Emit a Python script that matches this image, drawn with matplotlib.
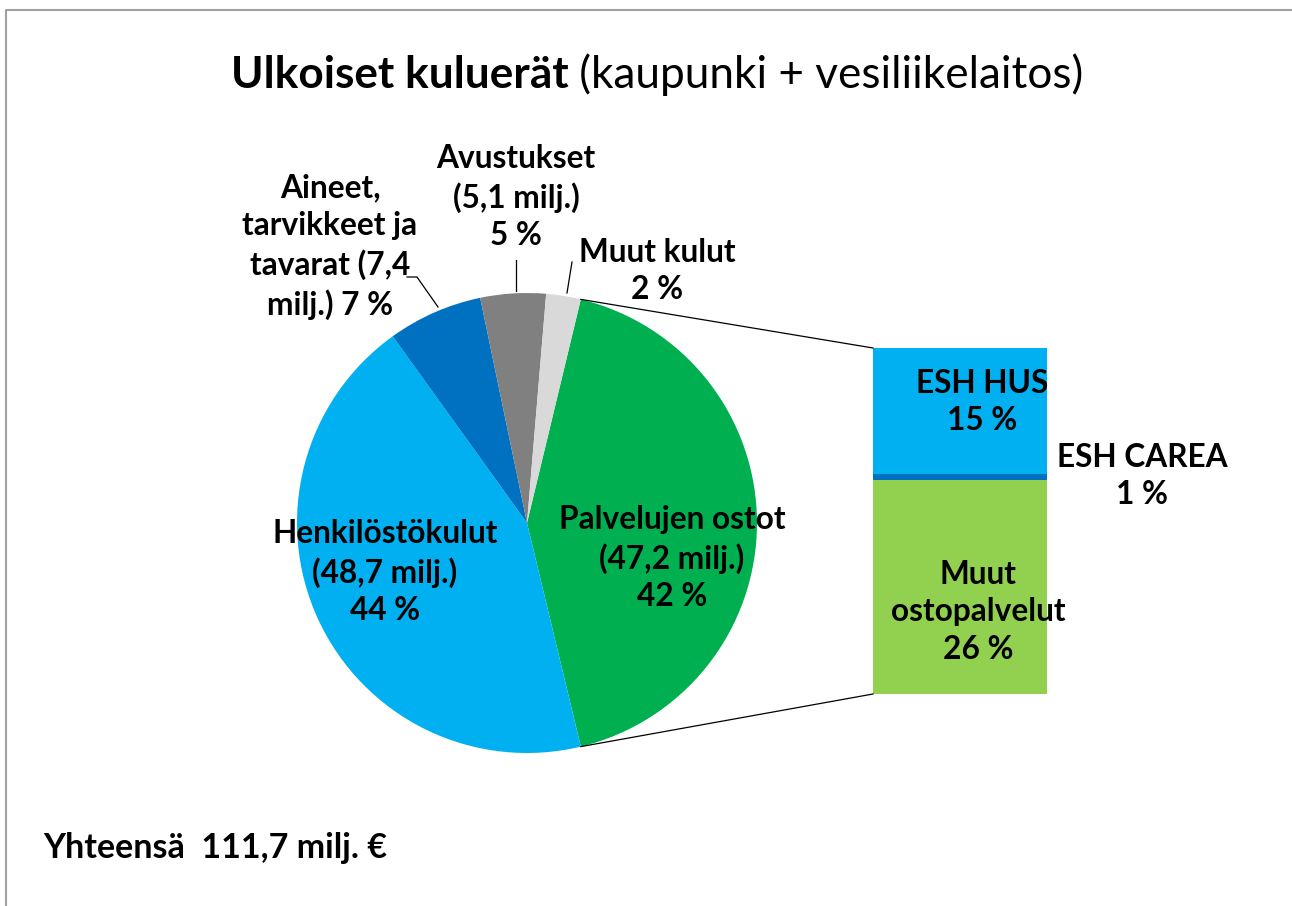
import matplotlib
matplotlib.use("Agg")
import matplotlib.pyplot as plt
import numpy as np

# ---- data ----
pie_labels = ["Palvelujen ostot\n(47,2 milj.)\n42 %",
              "Henkilöstökulut\n(48,7 milj.)\n44 %",
              "Aineet,\ntarvikkeet ja\ntavarat (7,4\nmilj.) 7 %",
              "Avustukset\n(5,1 milj.)\n5 %",
              "Muut kulut\n2 %"]
pie_values = [47.2, 48.7, 7.4, 5.1, 2.7]
pie_colors = ["#00B050", "#00B0F0", "#0070C0", "#808080", "#D9D9D9"]

bar_labels = ["Muut\nostopalvelut\n26 %", "ESH CAREA\n1 %", "ESH HUS\n15 %"]
bar_values = [29.2, 0.8, 17.2]
bar_colors = ["#92D050", "#0070C0", "#00B0F0"]

title_bold = "Ulkoiset kuluerät"
title_normal = " (kaupunki + vesiliikelaitos)"
total_text = "Yhteensä  111,7 milj. €"

W, H = 1292, 906
FONT = "Lato"
fig = plt.figure(figsize=(W / 100, H / 100), dpi=100)
ax = fig.add_axes([0, 0, 1, 1])

def py(y):  # convert from top-origin pixel to data y
    return H - y

cx, cy, R = 527, py(523), 230
green_deg = pie_values[0] / sum(pie_values) * 360
wedges, _ = ax.pie(pie_values, colors=pie_colors, startangle=green_deg / 2,
                   counterclock=False, center=(cx, cy), radius=R, frame=True,
                   wedgeprops=dict(linewidth=0))

# bar of pie
bar_x, bar_w = 960, 174
bar_bottom = py(694)
scale = (694 - 348) / sum(bar_values)
bottom = bar_bottom
for v, c in zip(bar_values, bar_colors):
    ax.bar(bar_x, v * scale, width=bar_w, bottom=bottom, color=c, linewidth=0)
    bottom += v * scale
bar_top = bottom

# connector lines
a = np.deg2rad(green_deg / 2)
ax.plot([cx + R * np.cos(a), bar_x - bar_w / 2], [cy + R * np.sin(a), bar_top],
        color="black", lw=0.9)
ax.plot([cx + R * np.cos(-a), bar_x - bar_w / 2], [cy + R * np.sin(-a), bar_bottom],
        color="black", lw=0.9)

LS = 1.36
fs = 22.8
# pie labels (positions in top-origin pixels)
pie_pos = [(672, 558), (385, 572), (330, 247), (516, 197), (657, 271)]
for lab, (x, y) in zip(pie_labels, pie_pos):
    ax.text(x, py(y), lab, ha="center", va="center", fontsize=fs,
            fontweight="bold", family=FONT, linespacing=LS, color="black")

bar_pos = [(978, 612), (1142, 476), (982, 402)]
for lab, (x, y) in zip(bar_labels, bar_pos):
    ax.text(x, py(y), lab, ha="center", va="center", fontsize=fs,
            fontweight="bold", family=FONT, linespacing=LS, color="black")

# leader lines
ax.plot([407, 417, 438], [py(277), py(277), py(307)], color="black", lw=0.9)
ax.plot([516, 516], [py(260), py(291)], color="black", lw=0.9)
ax.plot([572, 567], [py(262), py(293)], color="black", lw=0.9)

# title
r = fig.canvas.get_renderer()
tb = ax.text(0, py(88), title_bold, fontsize=31.8, fontweight="bold", family=FONT,
             va="baseline", ha="left")
tn = ax.text(0, py(88), title_normal, fontsize=31.8, family=FONT,
             va="baseline", ha="left")
wb = tb.get_window_extent(r).width
wn = tn.get_window_extent(r).width
x0 = 657 - (wb + wn) / 2
tb.set_x(x0)
tn.set_x(x0 + wb)

ax.text(43, py(858), total_text, fontsize=24.5, fontweight="bold", family=FONT,
        va="baseline", ha="left")

# border (top and left)
ax.plot([6, 6, W], [0, py(10), py(10)], color="#A0A0A0", lw=1.5)

ax.set_xlim(0, W)
ax.set_ylim(0, H)
ax.set_aspect("equal")
ax.axis("off")
fig.savefig("out.png", dpi=100)
